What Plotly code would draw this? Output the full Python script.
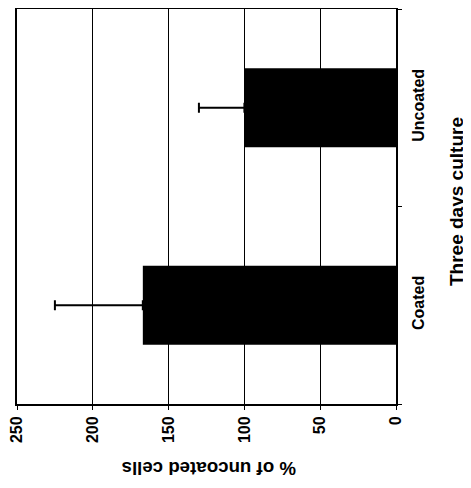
import plotly.graph_objects as go

categories = ["Coated", "Uncoated"]
values = [167, 100]
errors_plus = [58, 30]
x_ticks = [0, 50, 100, 150, 200, 250]

FONT = "Liberation Sans, Arial, sans-serif"

# the page body adds an 8px offset, so layout pixels are reference - 8
W, H = 471, 488
L, R, T, B = 9, 83, 1, 92
PW, PH = W - L - R, H - T - B


def px_to_paper(px, py):
    return (px - L) / PW, (H - B - py) / PH


fig = go.Figure()
fig.add_trace(go.Bar(
    y=categories,
    x=values,
    orientation="h",
    marker=dict(color="black", line=dict(width=0)),
    width=0.4,
    error_x=dict(type="data", symmetric=False, array=errors_plus,
                 arrayminus=[0] * len(values), color="black",
                 thickness=2, width=5),
    showlegend=False,
))

xt_x, xt_y = px_to_paper(201, 461)
yt_x, yt_y = px_to_paper(448, 194)

fig.update_layout(
    width=W, height=H,
    margin=dict(l=L, r=R, t=T, b=B),
    plot_bgcolor="white", paper_bgcolor="white",
    font=dict(family=FONT, color="black", size=16, weight="bold"),
    xaxis=dict(
        range=[250, 0],
        tickvals=x_ticks,
        ticktext=[str(v) for v in x_ticks],
        tickangle=-90,
        ticks="outside", ticklen=4, tickcolor="black", tickwidth=1,
        showline=True, linecolor="black", linewidth=2, mirror=True,
        showgrid=True, gridcolor="black", gridwidth=1,
        zeroline=False,
        tickfont=dict(size=16, weight="bold"),
        ticklabeloverflow="allow",
        automargin=False,
    ),
    yaxis=dict(
        side="right",
        categoryorder="array", categoryarray=categories,
        tickangle=-90,
        ticks="outside", ticklen=4, tickcolor="black", tickwidth=1,
        tickson="boundaries",
        ticklabelstandoff=7,
        showline=True, linecolor="black", linewidth=2, mirror=True,
        showgrid=False,
        tickfont=dict(size=16, weight="bold"),
        automargin=False,
    ),
    annotations=[
        dict(text="% of uncoated cells", xref="paper", yref="paper",
             x=xt_x, y=xt_y,
             xanchor="center", yanchor="middle", textangle=180,
             showarrow=False, font=dict(size=18.7, weight="bold")),
        dict(text="Three days culture", xref="paper", yref="paper",
             x=yt_x, y=yt_y,
             xanchor="center", yanchor="middle", textangle=-90,
             showarrow=False, font=dict(size=19, weight="bold")),
    ],
)

fig.write_html("out.html")
